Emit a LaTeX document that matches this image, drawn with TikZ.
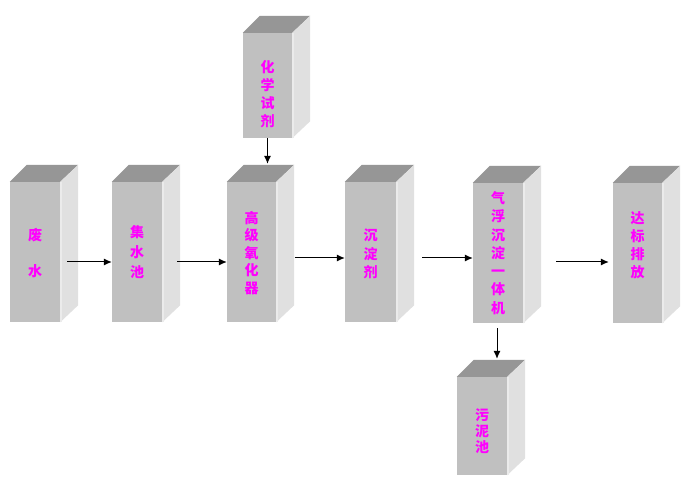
\documentclass[tikz,border=0pt]{standalone}
\usepackage{fontspec}
\newfontfamily\cjk{Noto Sans CJK SC}
\usetikzlibrary{arrows.meta}
\definecolor{frontc}{HTML}{C0C0C0}
\definecolor{topc}{HTML}{969696}
\definecolor{sidec}{HTML}{E0E0E0}
\definecolor{edgec}{HTML}{EBEBEB}
\definecolor{txtc}{HTML}{FF00FF}
\tikzset{
  front/.style={fill=frontc, inner sep=0pt, minimum width=50pt, minimum height=140pt},
  lbl/.style={text=txtc, align=center, inner sep=0pt, font=\cjk\bfseries\fontsize{14}{#1}\selectfont},
  arr/.style={draw=black, line width=1pt, -{Latex[length=8pt,width=7pt]}},
}
\begin{document}
\begin{tikzpicture}[x=1pt,y=-1pt]
\useasboundingbox[fill=white] (0,0) rectangle (697,489);
% front faces
\node[front] (b1) at (35,252) {};
\node[front] (b2) at (137,252) {};
\node[front, minimum width=49pt] (b3) at (251.5,252) {};
\node[front, minimum width=51pt] (b4) at (370.5,252) {};
\node[front] (b5) at (498,253) {};
\node[front, minimum width=49pt] (b6) at (637.5,253) {};
\node[front, minimum width=49pt, minimum height=105pt] (c) at (267.5,85.5) {};
\node[front, minimum height=98pt] (s) at (482,426) {};
% top and side faces
\foreach \n in {b1,b2,b3,b4,b5,b6,c,s}{
  \fill[topc] (\n.north west) -- ([shift={(17,-17)}]\n.north west) -- ([shift={(18,-17)}]\n.north east) -- (\n.north east) -- cycle;
  \fill[sidec] (\n.north east) -- ([shift={(18,-17)}]\n.north east) -- ([shift={(18,-17)}]\n.south east) -- (\n.south east) -- cycle;
  \draw[edgec, line width=1.5pt] ([shift={(1,0)}]\n.north east) -- ([shift={(1,0)}]\n.south east);
}
% labels
\node[lbl=18.5] (t1) at (35,253) {废\\[18pt]水};
\node[lbl=20] (t2) at (137,252) {集\\水\\池};
\node[lbl=17.5] (t3) at (251.5,253) {高\\级\\氧\\化\\器};
\node[lbl=18] (tc) at (267.5,94.5) {化\\学\\试\\剂};
\node[lbl=18.5] (t4) at (370.5,254) {沉\\淀\\剂};
\node[lbl=18.3] (t5) at (498,253) {气\\浮\\沉\\淀\\一\\体\\机};
\node[lbl=16] (ts) at (482,431) {污\\泥\\池};
\node[lbl=18] (t6) at (637.5,245) {达\\标\\排\\放};
% connector end points
\coordinate (b3top) at ([shift={(0,-18)}]b3.north);
\coordinate (stop) at ([shift={(0,-18)}]s.north);
\coordinate (b5out) at ([shift={(-1,5)}]b5.south);
% connectors
\draw[arr] ([shift={(7,10)}]b1.east) -- ([shift={(0,10)}]b2.west);
\draw[arr] ([shift={(15,10)}]b2.east) -- ([shift={(0,10)}]b3.west);
\draw[arr] ([shift={(18.5,6)}]b3.east) -- ([shift={(0,6)}]b4.west);
\draw[arr] ([shift={(26,6)}]b4.east) -- ([shift={(0,5)}]b5.west);
\draw[arr] ([shift={(33,9)}]b5.east) -- ([shift={(-4,9)}]b6.west);
\draw[arr] (c.south) -- (c.south |- b3top);
\draw[arr] (b5out) -- (b5out |- stop);
\end{tikzpicture}
\end{document}
